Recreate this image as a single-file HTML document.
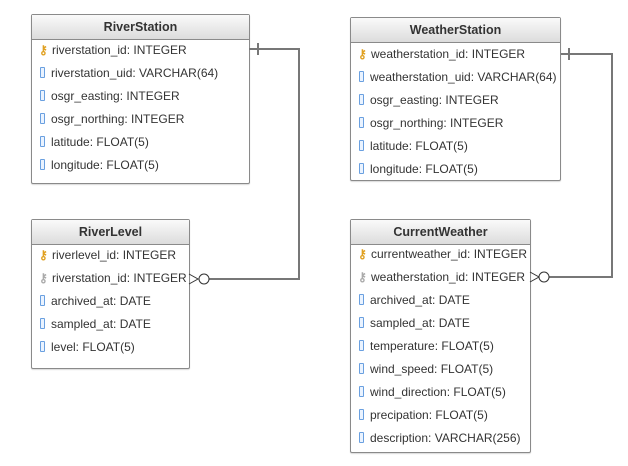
<!DOCTYPE html>
<html><head><style>
body{margin:0;width:628px;height:466px;background:#fff;position:relative;font-family:"Liberation Sans",Arial,sans-serif;font-size:12px;color:#333;overflow:hidden}
.t{position:absolute;border:1px solid #8a8a8a;border-radius:2px;background:#fff;box-sizing:border-box;box-shadow:0 1px 1px rgba(0,0,0,.15)}
.h{height:24px;line-height:24px;text-align:center;font-weight:bold;font-size:12.5px;background:linear-gradient(#fafafa,#dcdcdc);border-bottom:1px solid #8a8a8a}
.r{position:absolute;left:7px;white-space:nowrap;line-height:14px}
.c{display:inline-block;width:3px;height:9px;border:1px solid #6aa0e0;border-radius:1px;margin:0 6px 0 1px;vertical-align:-1px;background:#eaf3ff}
.k{display:inline-block;width:12px;margin-right:1px;color:#e0a020;font-size:12px;font-weight:bold}
.f{color:#aaa}
svg{position:absolute;left:0;top:0;z-index:2}
</style></head><body>
<svg width="628" height="466">
<g stroke="#777" stroke-width="2" fill="none">
<polyline points="249,49 299,49 299,279 209,279"/>
<line x1="258" y1="43" x2="258" y2="55"/>
<polyline points="561,54 612,54 612,277 549,277" />
<line x1="569" y1="48" x2="569" y2="60"/>
</g>
<g stroke="#333" stroke-width="1" fill="#fff">
<polyline points="189,274 198,279 189,284" fill="none"/>
<circle cx="204" cy="279" r="5"/>
<polyline points="530,272 539,277 530,282" fill="none"/>
<circle cx="544" cy="277" r="5"/>
</g>
</svg>

<div class="t" style="left:31px;top:14px;width:219px;height:170px">
<div class="h">RiverStation</div>
<div class="r" style="top:28px"><span class="k">&#x26B7;</span>riverstation_id: INTEGER</div>
<div class="r" style="top:51px"><span class="c"></span>riverstation_uid: VARCHAR(64)</div>
<div class="r" style="top:74px"><span class="c"></span>osgr_easting: INTEGER</div>
<div class="r" style="top:97px"><span class="c"></span>osgr_northing: INTEGER</div>
<div class="r" style="top:120px"><span class="c"></span>latitude: FLOAT(5)</div>
<div class="r" style="top:143px"><span class="c"></span>longitude: FLOAT(5)</div>
</div>

<div class="t" style="left:31px;top:219px;width:159px;height:150px">
<div class="h">RiverLevel</div>
<div class="r" style="top:28px"><span class="k">&#x26B7;</span>riverlevel_id: INTEGER</div>
<div class="r" style="top:51px"><span class="k f">&#x26B7;</span>riverstation_id: INTEGER</div>
<div class="r" style="top:74px"><span class="c"></span>archived_at: DATE</div>
<div class="r" style="top:97px"><span class="c"></span>sampled_at: DATE</div>
<div class="r" style="top:120px"><span class="c"></span>level: FLOAT(5)</div>
</div>

<div class="t" style="left:350px;top:17px;width:211px;height:164px">
<div class="h">WeatherStation</div>
<div class="r" style="top:29px"><span class="k">&#x26B7;</span>weatherstation_id: INTEGER</div>
<div class="r" style="top:52px"><span class="c"></span>weatherstation_uid: VARCHAR(64)</div>
<div class="r" style="top:75px"><span class="c"></span>osgr_easting: INTEGER</div>
<div class="r" style="top:98px"><span class="c"></span>osgr_northing: INTEGER</div>
<div class="r" style="top:121px"><span class="c"></span>latitude: FLOAT(5)</div>
<div class="r" style="top:144px"><span class="c"></span>longitude: FLOAT(5)</div>
</div>

<div class="t" style="left:350px;top:219px;width:181px;height:234px">
<div class="h">CurrentWeather</div>
<div class="r" style="top:27px"><span class="k">&#x26B7;</span>currentweather_id: INTEGER</div>
<div class="r" style="top:50px"><span class="k f">&#x26B7;</span>weatherstation_id: INTEGER</div>
<div class="r" style="top:73px"><span class="c"></span>archived_at: DATE</div>
<div class="r" style="top:96px"><span class="c"></span>sampled_at: DATE</div>
<div class="r" style="top:119px"><span class="c"></span>temperature: FLOAT(5)</div>
<div class="r" style="top:142px"><span class="c"></span>wind_speed: FLOAT(5)</div>
<div class="r" style="top:165px"><span class="c"></span>wind_direction: FLOAT(5)</div>
<div class="r" style="top:188px"><span class="c"></span>precipation: FLOAT(5)</div>
<div class="r" style="top:211px"><span class="c"></span>description: VARCHAR(256)</div>
</div>
</body></html>
